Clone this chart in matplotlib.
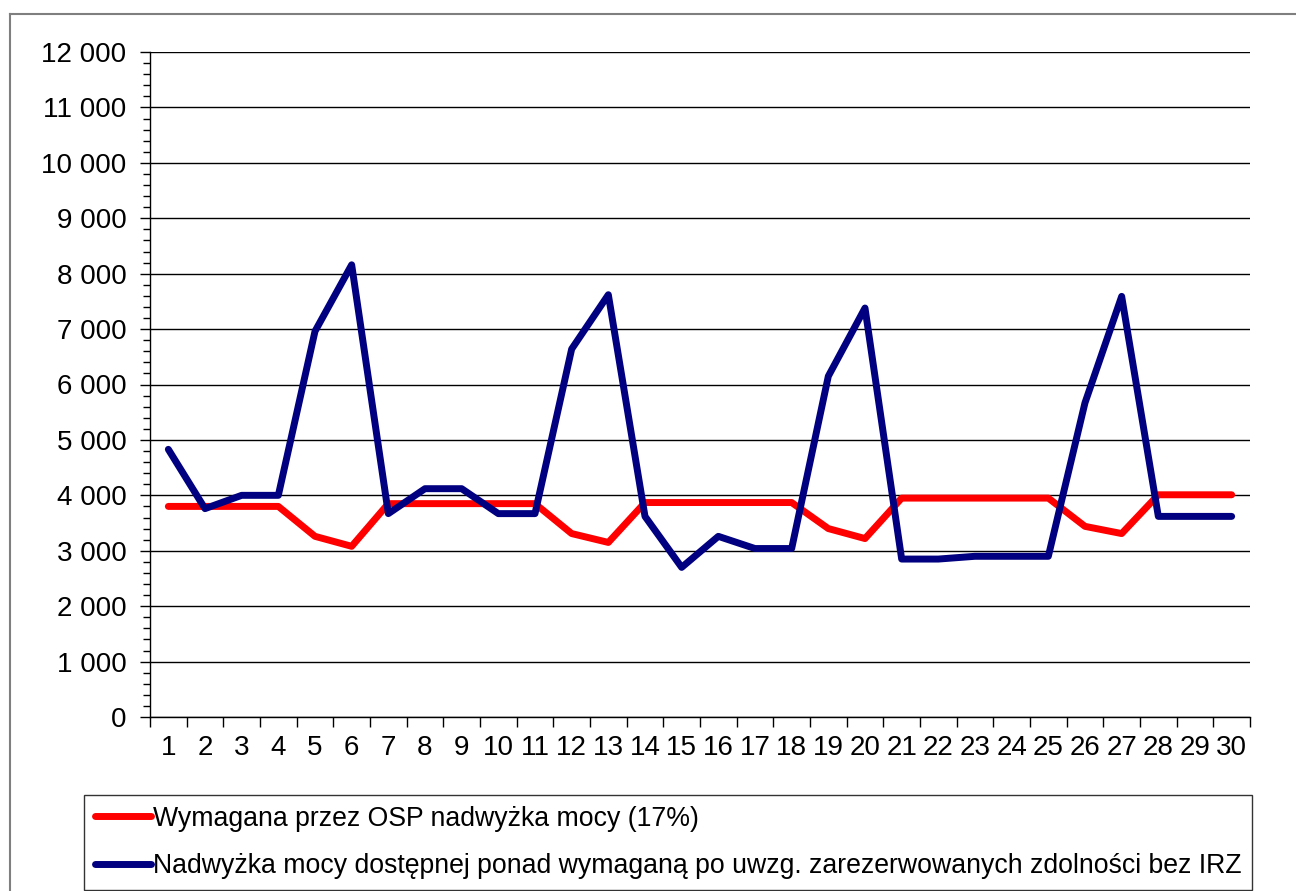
import matplotlib
matplotlib.use("Agg")
import matplotlib.pyplot as plt
from matplotlib.ticker import FuncFormatter, MultipleLocator, FixedLocator
from matplotlib.lines import Line2D

plt.rcParams["font.family"] = ["Liberation Sans", "DejaVu Sans"]

# dane
dni = list(range(1, 31))
wymagana = [3800, 3800, 3800, 3800, 3260, 3080, 3850, 3850, 3850, 3850,
            3850, 3310, 3150, 3870, 3870, 3870, 3870, 3870, 3400, 3220,
            3950, 3950, 3950, 3950, 3950, 3440, 3310, 4010, 4010, 4010]
nadwyzka = [4830, 3760, 4000, 4000, 6960, 8160, 3670, 4120, 4120, 3670,
            3670, 6640, 7620, 3620, 2700, 3260, 3040, 3040, 6150, 7380,
            2850, 2850, 2900, 2900, 2900, 5670, 7590, 3620, 3620, 3620]
etykiety = ["Wymagana przez OSP nadwyżka mocy (17%)",
            "Nadwyżka mocy dostępnej ponad wymaganą po uwzg. zarezerwowanych zdolności bez IRZ"]

W, H = 1296, 891
fig = plt.figure(figsize=(W / 100, H / 100), dpi=100)

# ramka wykresu
fig.add_artist(Line2D([10 / W, 10 / W], [0, 1 - 14 / H], color="#7f7f7f", lw=1.5))
fig.add_artist(Line2D([10 / W, 1], [1 - 14 / H, 1 - 14 / H], color="#7f7f7f", lw=1.5))

ax = fig.add_axes([150 / W, 1 - 717 / H, 1100 / W, 665 / H])

ax.plot(dni, wymagana, color="#ff0000", lw=5, solid_capstyle="round",
        solid_joinstyle="round", label=etykiety[0])
ax.plot(dni, nadwyzka, color="#000080", lw=5, solid_capstyle="round",
        solid_joinstyle="round", label=etykiety[1])

ax.set_xlim(0.5, 30.5)
ax.set_ylim(0, 12000)

ax.yaxis.set_major_locator(MultipleLocator(1000))
ax.yaxis.set_minor_locator(MultipleLocator(200))
ax.yaxis.set_major_formatter(FuncFormatter(lambda v, p: f"{v:,.0f}".replace(",", " ")))
ax.grid(axis="y", which="major", color="black", lw=1)

ax.xaxis.set_major_locator(FixedLocator([i + 0.5 for i in range(0, 31)]))
ax.xaxis.set_major_formatter(FuncFormatter(lambda v, p: ""))
ax.xaxis.set_minor_locator(FixedLocator(dni))
ax.xaxis.set_minor_formatter(FuncFormatter(lambda v, p: f"{int(round(v))}"))

ax.tick_params(axis="x", which="major", length=7, width=1, direction="out")
ax.tick_params(axis="x", which="minor", length=0, labelsize=20, pad=13)
ax.tick_params(axis="y", which="major", length=7, width=1, labelsize=20, pad=10)
ax.tick_params(axis="y", which="minor", length=5, width=1)

for s in ["top", "right"]:
    ax.spines[s].set_visible(False)
for s in ["left", "bottom"]:
    ax.spines[s].set_color("black")
    ax.spines[s].set_linewidth(1)

leg = fig.legend(loc="upper left",
                 bbox_to_anchor=(84 / W, 1 - 890 / H, (1252 - 84) / W, (890 - 795) / H),
                 mode="expand", fontsize=19.2, frameon=True, fancybox=False,
                 handlelength=2.1, handletextpad=0.1, labelspacing=0.8,
                 borderpad=0.4, borderaxespad=0)
leg.get_frame().set_edgecolor("black")
leg.get_frame().set_linewidth(1)

fig.savefig("out.png", dpi=100)
